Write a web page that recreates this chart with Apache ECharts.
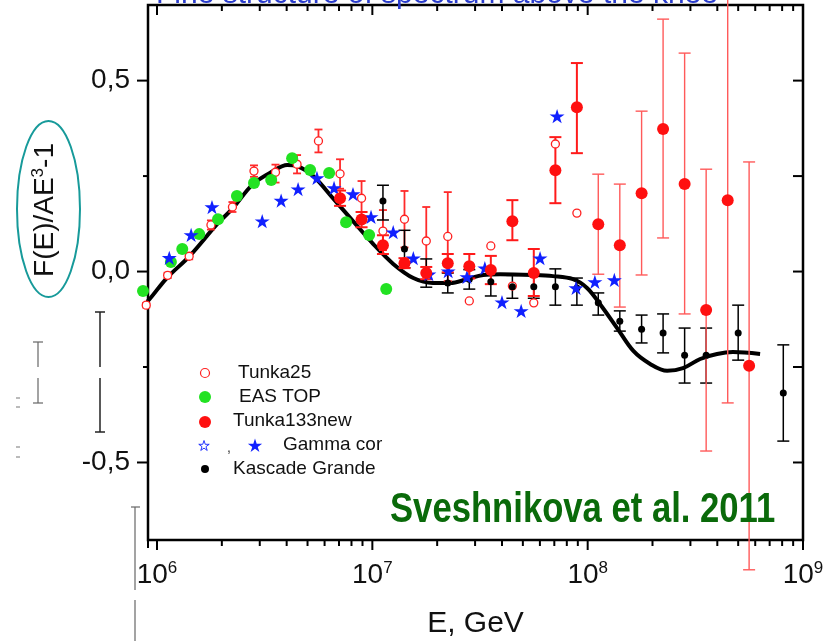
<!DOCTYPE html>
<html><head><meta charset="utf-8">
<script src="https://cdn.jsdelivr.net/npm/echarts@6/dist/echarts.min.js"></script>
<style>html,body{margin:0;padding:0;background:#fff}#c{width:839px;height:641px}</style>
</head><body><div id="c"></div>
<script>
const FONT = "'Liberation Sans', Arial, Helvetica, sans-serif";

// ---- fit curve ----
const curveE = [6.38e5, 9.08e5, 1.11e6, 1.42e6, 1.90e6, 2.25e6, 2.79e6, 3.46e6, 4.02e6, 4.47e6, 5.31e6, 6.56e6, 8.13e6, 1.01e7, 1.25e7, 1.55e7, 1.91e7, 2.30e7, 2.75e7, 3.27e7, 3.92e7, 5.57e7, 6.90e7, 8.55e7, 9.93e7, 1.14e8, 1.37e8, 1.63e8, 1.95e8, 2.34e8, 2.77e8, 3.33e8, 3.99e8, 4.73e8, 6.32e8];
const curveF = [-0.169, -0.077, -0.017, 0.041, 0.124, 0.166, 0.229, 0.263, 0.279, 0.276, 0.250, 0.192, 0.132, 0.072, 0.020, -0.017, -0.030, -0.030, -0.020, -0.009, -0.007, -0.009, -0.012, -0.020, -0.043, -0.085, -0.148, -0.208, -0.242, -0.260, -0.253, -0.229, -0.216, -0.211, -0.216];

// ---- EAS TOP ----
const easE = [8.61e5, 1.16e6, 1.31e6, 1.57e6, 1.92e6, 2.35e6, 2.82e6, 3.39e6, 4.24e6, 5.14e6, 6.30e6, 7.55e6, 9.66e6, 1.16e7];
const easF = [-0.051, 0.025, 0.059, 0.098, 0.137, 0.198, 0.232, 0.240, 0.297, 0.266, 0.258, 0.129, 0.096, -0.046];

// ---- Tunka25 ----
const t25E = [8.91e5, 1.12e6, 1.41e6, 1.78e6, 2.24e6, 2.82e6, 3.55e6, 4.47e6, 5.62e6, 7.08e6, 8.91e6, 1.12e7, 1.41e7, 1.78e7, 2.24e7, 2.82e7, 3.55e7, 4.47e7, 5.62e7, 7.08e7, 8.91e7];
const t25F = [-0.088, -0.010, 0.040, 0.122, 0.169, 0.263, 0.260, 0.281, 0.342, 0.256, 0.192, 0.106, 0.137, 0.080, 0.092, -0.077, 0.067, -0.038, -0.082, 0.334, 0.153];
const t25Lo = [-0.094, -0.017, 0.032, 0.110, 0.156, 0.248, 0.233, 0.257, 0.312, 0.217, 0.156, 0.056, 0.063, -0.010, -0.025, null, null, null, null, null, null];
const t25Hi = [-0.082, -0.003, 0.048, 0.134, 0.182, 0.278, 0.280, 0.305, 0.372, 0.294, 0.237, 0.161, 0.211, 0.169, 0.208, null, null, null, null, null, null];

// ---- Tunka133new ----
const t133E = [7.08e6, 8.91e6, 1.12e7, 1.41e7, 1.78e7, 2.24e7, 2.82e7, 3.55e7, 4.47e7, 5.62e7, 7.08e7, 8.91e7, 1.12e8, 1.41e8, 1.78e8, 2.24e8, 2.82e8, 3.55e8, 4.47e8, 5.62e8];
const t133F = [0.192, 0.136, 0.069, 0.022, -0.004, 0.022, 0.014, 0.004, 0.132, -0.004, 0.265, 0.430, 0.124, 0.069, 0.205, 0.373, 0.229, -0.101, 0.187, -0.247];
const t133Lo = [0.172, 0.116, 0.046, 0.009, -0.020, -0.002, -0.018, -0.033, 0.082, -0.064, 0.179, 0.310, -0.007, -0.093, -0.009, 0.088, -0.111, -0.470, -0.344, -0.781];
const t133Hi = [0.212, 0.156, 0.095, 0.035, 0.012, 0.046, 0.046, 0.041, 0.187, 0.059, 0.352, 0.546, 0.255, 0.229, 0.420, 0.661, 0.572, 0.268, 0.780, 0.287];

// ---- Gamma cor ----
const gamE = [1.14e6, 1.44e6, 1.80e6, 3.08e6, 3.77e6, 4.52e6, 5.53e6, 6.64e6, 8.13e6, 9.86e6, 1.25e7, 1.55e7, 1.83e7, 2.25e7, 2.75e7, 3.33e7, 4.00e7, 4.91e7, 6.01e7, 7.21e7, 8.83e7, 1.08e8, 1.33e8];
const gamF = [0.036, 0.096, 0.169, 0.132, 0.186, 0.216, 0.245, 0.219, 0.203, 0.143, 0.103, 0.035, -0.007, 0.001, -0.014, 0.009, -0.080, -0.103, 0.035, 0.407, -0.043, -0.027, -0.022];

// ---- Kascade Grande ----
const kgE = [1.12e7, 1.41e7, 1.78e7, 2.24e7, 2.82e7, 3.55e7, 4.47e7, 5.62e7, 7.08e7, 8.91e7, 1.12e8, 1.41e8, 1.78e8, 2.24e8, 2.82e8, 3.55e8, 5.0e8, 8.1e8];
const kgF = [0.185, 0.059, -0.004, -0.030, -0.020, -0.027, -0.040, -0.040, -0.040, -0.043, -0.082, -0.130, -0.151, -0.161, -0.219, -0.219, -0.161, -0.318];
const kgLo = [0.135, 0.010, -0.041, -0.056, -0.046, -0.064, -0.070, -0.070, -0.088, -0.088, -0.114, -0.156, -0.187, -0.213, -0.292, -0.292, -0.232, -0.444];
const kgHi = [0.226, 0.108, 0.033, -0.004, 0.005, -0.007, -0.010, -0.010, 0.007, -0.017, -0.056, -0.103, -0.114, -0.111, -0.148, -0.148, -0.088, -0.192];

// ---- axes / ticks ----
const X_MIN = 9.08e5, X_MAX = 1e9, Y_MIN = -0.703, Y_MAX = 0.698;
const xMajorTicks = [1e6, 1e7, 1e8, 1e9];
const xMinorTicks = [];
for (let d = 5; d <= 8; d++) for (let m = 2; m <= 9; m++) { const v = m * Math.pow(10, d); if (v > X_MIN && v < X_MAX) xMinorTicks.push(v); }
const yLabelValues = [-0.5, 0, 0.5];
const yMinorTicks = [-0.25, 0.25];

const RED = '#ff1010', GREEN = '#22e222', BLUE = '#1020ff';
const STAR = 'path://M50 0 L61.23 34.55 L97.55 34.55 L68.16 55.9 L79.39 90.45 L50 69.1 L20.61 90.45 L31.84 55.9 L2.45 34.55 L38.77 34.55 Z';

function zip2(a, b) { return a.map((v, i) => [v, b[i]]); }
function errRows(E, F, lo, hi, filt) {
  const out = [];
  E.forEach((e, i) => { if (lo[i] != null && hi[i] != null && (!filt || filt(e))) out.push([e, F[i], lo[i], hi[i]]); });
  return out;
}
function errRender(color, width, cap) {
  return function (params, api) {
    const x = api.value(0);
    const a = api.coord([x, api.value(3)]), b = api.coord([x, api.value(2)]);
    const st = { stroke: color, lineWidth: width };
    return { type: 'group', children: [
      { type: 'line', shape: { x1: a[0], y1: a[1], x2: b[0], y2: b[1] }, style: st },
      { type: 'line', shape: { x1: a[0] - cap, y1: a[1], x2: a[0] + cap, y2: a[1] }, style: st },
      { type: 'line', shape: { x1: b[0] - cap, y1: b[1], x2: b[0] + cap, y2: b[1] }, style: st }
    ]};
  };
}
function errSeries(data, color, width, cap) {
  return { type: 'custom', data: data, encode: { x: 0, y: 1 }, renderItem: errRender(color, width, cap), clip: false, silent: true, z: 3 };
}
function tickRender(params, api) {
  const st = { stroke: '#000', lineWidth: 2 };
  const ch = [];
  const L = (x1, y1, x2, y2) => ch.push({ type: 'line', shape: { x1, y1, x2, y2 }, style: st });
  xMajorTicks.forEach(v => { const b = api.coord([v, Y_MIN]), t = api.coord([v, Y_MAX]); L(b[0], b[1], b[0], b[1] + 10); L(t[0], t[1], t[0], t[1] + 10); });
  xMinorTicks.forEach(v => { const b = api.coord([v, Y_MIN]), t = api.coord([v, Y_MAX]); L(b[0], b[1], b[0], b[1] + 6); L(t[0], t[1], t[0], t[1] + 6); });
  const c0 = api.coord([X_MIN, Y_MIN]); L(c0[0], c0[1], c0[0], c0[1] + 8);
  yLabelValues.forEach(v => { const l = api.coord([X_MIN, v]), r = api.coord([X_MAX, v]); L(l[0] - 11, l[1], l[0], l[1]); L(r[0] - 10, r[1], r[0], r[1]); });
  yMinorTicks.forEach(v => { const l = api.coord([X_MIN, v]), r = api.coord([X_MAX, v]); L(l[0] - 5, l[1], l[0], l[1]); L(r[0] - 10, r[1], r[0], r[1]); });
  return { type: 'group', children: ch };
}
function starPts(cx, cy, R) {
  const p = [];
  for (let k = 0; k < 10; k++) { const a = -Math.PI / 2 + k * Math.PI / 5, r = k % 2 ? R * 0.382 : R; p.push([cx + r * Math.cos(a), cy + r * Math.sin(a)]); }
  return p;
}

const chart = echarts.init(document.getElementById('c'), null, { renderer: 'canvas' });
const legendTxt = (x, y, t) => ({ type: 'text', x: x, y: y, style: { text: t, fontSize: 19, fontFamily: FONT, fill: '#111', align: 'left', verticalAlign: 'middle' }, z: 20 });
const art = (x1, y1, x2, y2, c, w) => ({ type: 'line', shape: { x1, y1, x2, y2 }, style: { stroke: c, lineWidth: w }, z: 20 });

chart.setOption({
  animation: false,
  backgroundColor: '#fff',
  textStyle: { fontFamily: FONT },
  grid: { left: 148, right: 36, top: 5, bottom: 101, show: true, borderColor: '#000', borderWidth: 2.5, backgroundColor: 'transparent', containLabel: false, outerBoundsMode: 'none' },
  xAxis: {
    type: 'log', logBase: 10, min: X_MIN, max: X_MAX,
    axisLine: { show: false }, axisTick: { show: false }, splitLine: { show: false }, minorTick: { show: false },
    name: 'E, GeV', nameLocation: 'middle', nameGap: 69,
    nameTextStyle: { fontSize: 30, color: '#111', fontFamily: FONT },
    axisLabel: {
      margin: 20, color: '#111',
      formatter: function (v) { const l = Math.log10(v), r = Math.round(l); return Math.abs(l - r) < 1e-6 ? '{b|10}{s|' + r + '}' : ''; },
      rich: { b: { fontSize: 28, lineHeight: 30, fontFamily: FONT, color: '#111' }, s: { fontSize: 17, lineHeight: 10, verticalAlign: 'top', fontFamily: FONT, color: '#111' } }
    }
  },
  yAxis: {
    type: 'value', min: Y_MIN, max: Y_MAX,
    axisLine: { show: false }, axisTick: { show: false }, splitLine: { show: false },
    axisLabel: { customValues: yLabelValues, margin: 18, fontSize: 28, color: '#111', fontFamily: FONT, formatter: v => v.toFixed(1).replace('.', ',') }
  },
  series: [
    { type: 'line', name: 'fit', data: zip2(curveE, curveF), smooth: 0.35, symbol: 'none', clip: false, lineStyle: { color: '#000', width: 4 }, z: 2, silent: true },
    errSeries(errRows(t25E, t25F, t25Lo, t25Hi), '#ff2a2a', 1.8, 4),
    errSeries(errRows(kgE, kgF, kgLo, kgHi), '#000', 1.5, 6),
    errSeries(errRows(t133E, t133F, t133Lo, t133Hi, e => e < 1e8), '#ff1a1a', 2, 6),
    errSeries(errRows(t133E, t133F, t133Lo, t133Hi, e => e >= 1e8), '#ff5a5a', 1.4, 6),
    { type: 'scatter', name: 'Tunka25', data: zip2(t25E, t25F), symbol: 'circle', symbolSize: 8, clip: false, itemStyle: { color: '#fff', borderColor: '#ff2020', borderWidth: 1.3, opacity: 1 }, z: 4 },
    { type: 'scatter', name: 'EAS TOP', data: zip2(easE, easF), symbol: 'circle', symbolSize: 12, clip: false, itemStyle: { color: GREEN, opacity: 1 }, z: 4 },
    { type: 'scatter', name: 'Kascade Grande', data: zip2(kgE, kgF), symbol: 'circle', symbolSize: 7, clip: false, itemStyle: { color: '#000', opacity: 1 }, z: 4 },
    { type: 'scatter', name: 'Gamma cor', data: zip2(gamE, gamF), symbol: STAR, symbolKeepAspect: true, symbolSize: 15, clip: false, itemStyle: { color: BLUE, opacity: 1 }, z: 5 },
    { type: 'scatter', name: 'Tunka133new', data: zip2(t133E, t133F), symbol: 'circle', symbolSize: 12, clip: false, itemStyle: { color: RED, opacity: 1 }, z: 6 },
    { type: 'custom', name: 'ticks', data: [[1e6, 0]], encode: { x: 0, y: 1 }, renderItem: tickRender, clip: false, silent: true, z: 7 }
  ],
  graphic: [
    { type: 'text', x: 437, y: 10, style: { text: 'Fine structure of spectrum above the knee', fontSize: 30, fontFamily: FONT, fill: '#2a3ccc', align: 'center', verticalAlign: 'bottom' }, z: 20 },
    { type: 'ellipse', shape: { cx: 48.5, cy: 209, rx: 31.5, ry: 88 }, style: { stroke: '#179a9a', lineWidth: 2, fill: 'none' }, z: 20 },
    { type: 'text', x: 45, y: 210, rotation: Math.PI / 2, style: { text: '{b|F(E)/AE}{s|3}{b|-1}', rich: { b: { fontSize: 28, lineHeight: 30, fontFamily: FONT, fill: '#111' }, s: { fontSize: 17, lineHeight: 10, verticalAlign: 'top', fontFamily: FONT, fill: '#111' } }, align: 'center', verticalAlign: 'middle' }, z: 20 },
    { type: 'text', x: 390, y: 510, scaleX: 0.825, style: { text: 'Sveshnikova et al. 2011', fontSize: 42, fontWeight: 'bold', fontFamily: FONT, fill: '#0a6a0a', align: 'left', verticalAlign: 'middle' }, z: 20 },
    // legend
    { type: 'circle', shape: { cx: 205, cy: 373, r: 4.5 }, style: { fill: '#fff', stroke: '#ff2020', lineWidth: 1.2 }, z: 20 },
    { type: 'circle', shape: { cx: 205, cy: 397, r: 6 }, style: { fill: GREEN }, z: 20 },
    { type: 'circle', shape: { cx: 205, cy: 422, r: 6 }, style: { fill: RED }, z: 20 },
    { type: 'polygon', shape: { points: starPts(204, 446, 5.5) }, style: { fill: '#fff', stroke: BLUE, lineWidth: 0.9 }, z: 20 },
    { type: 'text', x: 229, y: 448, style: { text: ',', fontSize: 14, fontFamily: FONT, fill: '#333', align: 'center', verticalAlign: 'middle' }, z: 20 },
    { type: 'polygon', shape: { points: starPts(255, 446, 7.5) }, style: { fill: BLUE }, z: 20 },
    { type: 'circle', shape: { cx: 205, cy: 469, r: 4 }, style: { fill: '#000' }, z: 20 },
    legendTxt(238, 373, 'Tunka25'),
    legendTxt(239, 397, 'EAS TOP'),
    legendTxt(233, 421, 'Tunka133new'),
    legendTxt(283, 445, 'Gamma cor'),
    legendTxt(233, 469, 'Kascade Grande'),
    // stray marks of the scanned page
    art(100, 312, 100, 367, '#222', 1.5), art(100, 378, 100, 432, '#222', 1.5), art(95, 312, 105, 312, '#222', 1.5), art(95, 432, 105, 432, '#222', 1.5),
    art(38, 342, 38, 367, '#666', 1.2), art(38, 378, 38, 403, '#666', 1.2), art(33, 342, 43, 342, '#666', 1.2), art(33, 403, 43, 403, '#666', 1.2),
    art(135, 507, 135, 590, '#666', 1.2), art(135, 600, 135, 641, '#666', 1.2), art(131, 507, 140, 507, '#666', 1.2),
    art(16, 398, 20, 398, '#777', 1), art(16, 407, 20, 407, '#777', 1), art(16, 447, 20, 447, '#777', 1), art(16, 457, 20, 457, '#777', 1)
  ]
});
</script></body></html>
